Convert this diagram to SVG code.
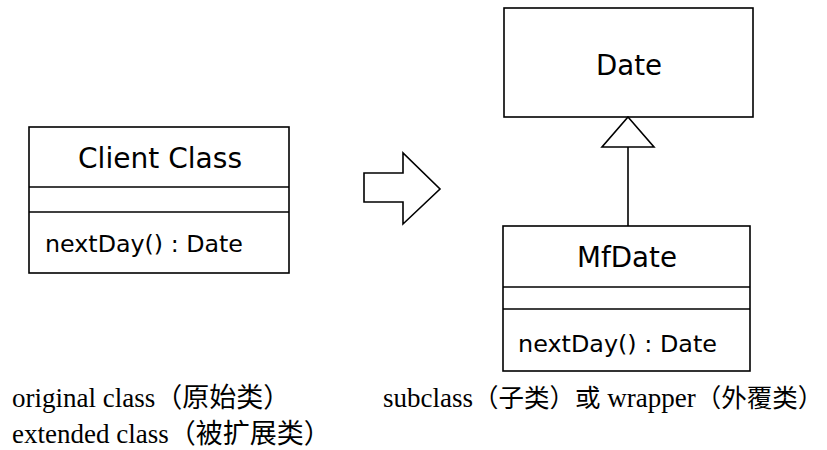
<svg xmlns="http://www.w3.org/2000/svg" width="827" height="450" viewBox="0 0 827 450">
  <style>
    .box { fill: #ffffff; stroke: #000000; stroke-width: 1.6; }
    .sep { stroke: #000000; stroke-width: 1.6; fill: none; }
    .name { font-family: "DejaVu Sans", "Liberation Sans", sans-serif; font-size: 28px; fill: #000000; }
    .op { font-family: "DejaVu Sans", "Liberation Sans", sans-serif; font-size: 23px; fill: #000000; }
    .caption { font-family: "Liberation Serif", "Noto Sans CJK SC", serif; font-size: 27px; fill: #000000; }
    .cjk { font-family: "Noto Sans CJK SC", serif; font-size: 27px; }
    .cjk-s { font-family: "Noto Sans CJK SC", serif; font-size: 25.5px; }
    .link { stroke: #000000; stroke-width: 1.6; fill: none; }
    .hollow { stroke: #000000; stroke-width: 1.6; fill: #ffffff; }
  </style>

  <rect width="827" height="450" fill="#ffffff"/>

  <!-- Original class -->
  <g id="client-class">
    <rect class="box" x="29" y="127" width="260" height="146"/>
    <line class="sep" x1="29" y1="187" x2="289" y2="187"/>
    <line class="sep" x1="29" y1="212" x2="289" y2="212"/>
    <text class="name" x="78" y="168" textLength="164" lengthAdjust="spacingAndGlyphs">Client Class</text>
    <text class="op" x="45" y="252" textLength="198" lengthAdjust="spacingAndGlyphs">nextDay() : Date</text>
  </g>

  <!-- Transformation arrow -->
  <g id="transform-arrow">
    <polygon class="hollow" points="364,173 403,173 403,153 440,189 403,224 403,202 364,202"/>
  </g>

  <!-- Superclass -->
  <g id="date">
    <rect class="box" x="504" y="8" width="249" height="109"/>
    <text class="name" x="596" y="75" textLength="66" lengthAdjust="spacingAndGlyphs">Date</text>
  </g>

  <!-- Subclass -->
  <g id="mfdate">
    <rect class="box" x="503" y="226" width="247" height="145"/>
    <line class="sep" x1="503" y1="287" x2="750" y2="287"/>
    <line class="sep" x1="503" y1="309" x2="750" y2="309"/>
    <text class="name" x="577" y="267" textLength="100" lengthAdjust="spacingAndGlyphs">MfDate</text>
    <text class="op" x="518" y="352" textLength="199" lengthAdjust="spacingAndGlyphs">nextDay() : Date</text>
  </g>

  <!-- Generalization -->
  <g id="connectors">
    <line class="link" x1="628" y1="226" x2="628" y2="147"/>
    <polygon class="hollow" points="628,117 654,147 602,147"/>
  </g>

  <!-- Captions -->
  <g id="captions">
    <text class="caption" x="12" y="407">original class<tspan class="cjk">（原始类）</tspan></text>
    <text class="caption" x="12" y="443">extended class<tspan class="cjk">（被扩展类）</tspan></text>
    <text class="caption" x="383" y="407">subclass<tspan class="cjk-s">（子类）或</tspan> wrapper<tspan class="cjk-s">（外覆类）</tspan></text>
  </g>
</svg>
